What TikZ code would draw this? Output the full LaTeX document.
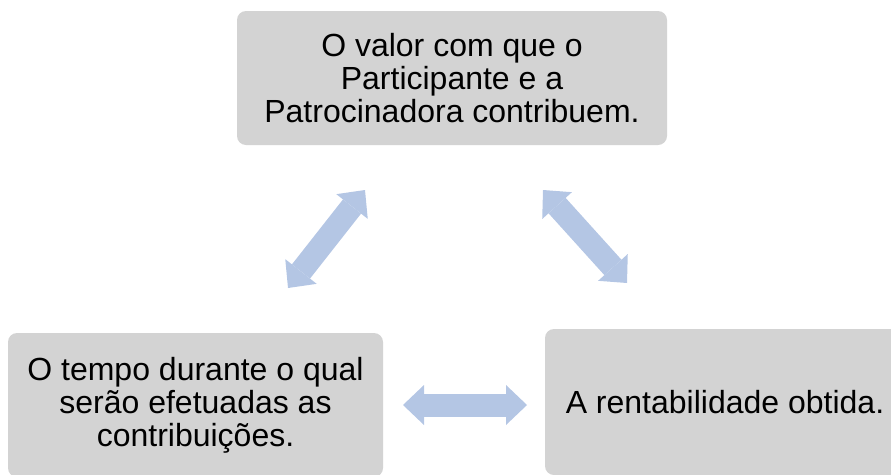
\documentclass[tikz,border=0pt]{standalone}
\usepackage{fontspec}
\setmainfont{Liberation Sans}
\usetikzlibrary{arrows.meta}
\definecolor{boxgray}{RGB}{211,211,211}
\definecolor{arrowblue}{RGB}{180,198,228}
\begin{document}
\begin{tikzpicture}[x=1pt,y=-1pt,
  box/.style={fill=boxgray, rounded corners=9pt, align=center, font=\fontsize{32}{33}\selectfont, inner sep=0pt, text=black},
  blockarrow/.style={draw=arrowblue, line width=23pt, line cap=butt, {Triangle[length=21pt,width=40pt,line width=0pt]}-{Triangle[length=21pt,width=40pt,line width=0pt]}}
]
\useasboundingbox (0,0) rectangle (891,474);
\clip (0,0) rectangle (891,474);
\node[box, minimum width=430pt, minimum height=134pt] (top) at (452,78) {O valor com que o\\Participante e a\\Patrocinadora contribuem.};
\node[box, minimum width=375pt, minimum height=144pt] (left) at (195.5,405) {O tempo durante o qual\\serão efetuadas as\\contribuições.};
\node[box, minimum width=360pt, minimum height=146pt] (right) at (725,402) {A rentabilidade obtida.};
\coordinate (l1) at (288,288);
\coordinate (l2) at (365,190);
\coordinate (r1) at (543,190);
\coordinate (r2) at (627,283);
\coordinate (h1) at (403,405);
\coordinate (h2) at (527,405);
\draw[blockarrow] (l1) -- (l2);
\draw[blockarrow] (r1) -- (r2);
\draw[blockarrow] (h1) -- (h2);
\end{tikzpicture}
\end{document}
